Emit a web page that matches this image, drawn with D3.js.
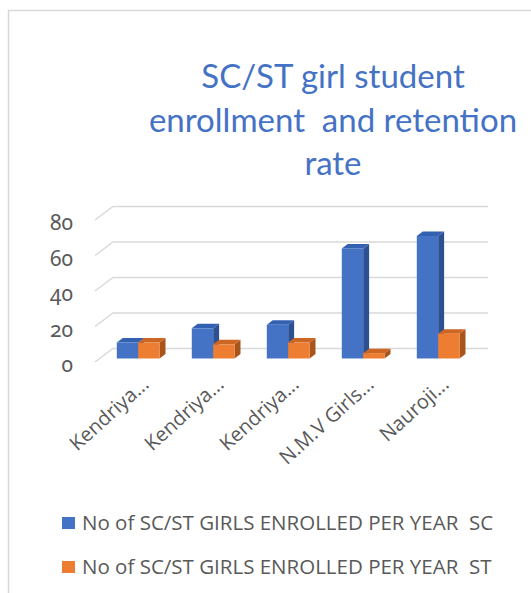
<!DOCTYPE html>
<html>
<head>
<meta charset="utf-8">
<script src="https://cdn.jsdelivr.net/npm/d3@7"></script>
<style>
  html, body { margin: 0; padding: 0; background: #fff; }
  svg { display: block; }
</style>
</head>
<body>
<svg id="chart"></svg>
<script>
const schools = ['Kendriya...', 'Kendriya...', 'Kendriya...', 'N.M.V Girls...', 'Nauroji...'];
const scValues = [9, 17, 19, 62, 69];
const stValues = [9, 8, 9, 3, 14];
const seriesNames = ['No of SC/ST GIRLS ENROLLED PER YEAR  SC', 'No of SC/ST GIRLS ENROLLED PER YEAR  ST'];
const yTicks = [0, 20, 40, 60, 80];
const titleLines = ['SC/ST girl student', 'enrollment  and retention', 'rate'];

const width = 531;
const height = 593;
// oblique depth of the 3d box (front plane -> back wall)
const depth = { dx: 18, dy: 13.5 };
const barDepth = [0.26, 0.59];

const palette = {
  sc: { front: '#4472c4', top: '#3360b0', side: '#2d5093' },
  st: { front: '#ed7d31', top: '#cc6622', side: '#a8541b' }
};

const svg = d3.select('#chart')
  .attr('width', width)
  .attr('height', height);

svg.append('rect')
  .attr('x', 8.5)
  .attr('y', 10.5)
  .attr('width', 700)
  .attr('height', 700)
  .attr('fill', '#fff')
  .attr('stroke', '#d9d9d9')
  .attr('stroke-width', 1.5);

svg.append('text')
  .attr('font-family', 'Lato, sans-serif')
  .attr('font-size', 33)
  .attr('fill', '#4472c4')
  .attr('text-anchor', 'middle')
  .style('white-space', 'pre')
  .selectAll('tspan')
  .data(titleLines)
  .join('tspan')
  .attr('x', 333)
  .attr('y', (d, i) => [88, 132, 175][i])
  .text(d => d);

const x = d3.scaleBand()
  .domain(d3.range(schools.length))
  .range([96, 471])
  .paddingInner(0.43)
  .paddingOuter(0.215);

const xSub = d3.scaleBand()
  .domain(['sc', 'st'])
  .range([0, x.bandwidth()]);

const y = d3.scaleLinear()
  .domain([0, 80])
  .range([362, 220]);

const px = (xv, d) => xv + d * depth.dx;
const py = (yv, d) => yv - d * depth.dy;

// gridlines: side wall diagonal + back wall
const grid = svg.append('g')
  .attr('stroke', '#d9d9d9')
  .attr('stroke-width', 1.5)
  .attr('fill', 'none');

grid.selectAll('path')
  .data(yTicks)
  .join('path')
  .attr('d', v => `M${px(95, 0)},${py(y(v), 0)}L${px(95, 1)},${py(y(v), 1)}H${px(470, 1)}`);

svg.append('g')
  .attr('font-family', '"Noto Sans", sans-serif')
  .attr('font-size', 21)
  .attr('fill', '#595959')
  .attr('text-anchor', 'end')
  .style('font-variant-numeric', 'oldstyle-nums')
  .selectAll('text')
  .data(yTicks)
  .join('text')
  .attr('x', 73)
  .attr('y', v => y(v) + 3)
  .attr('dy', '0.35em')
  .text(v => v);

const bars = [];
schools.forEach((s, i) => {
  bars.push({ i, key: 'sc', value: scValues[i] });
  bars.push({ i, key: 'st', value: stValues[i] });
});

const barG = svg.append('g')
  .selectAll('g')
  .data(bars)
  .join('g');

const [d0, d1] = barDepth;
const x0 = b => x(b.i) + xSub(b.key);
const x1 = b => x0(b) + xSub.bandwidth();

barG.append('path')
  .attr('fill', b => palette[b.key].side)
  .attr('d', b => `M${px(x1(b), d0)},${py(y(0), d0)}L${px(x1(b), d1)},${py(y(0), d1)}L${px(x1(b), d1)},${py(y(b.value), d1)}L${px(x1(b), d0)},${py(y(b.value), d0)}Z`);

barG.append('path')
  .attr('fill', b => palette[b.key].top)
  .attr('d', b => `M${px(x0(b), d0)},${py(y(b.value), d0)}L${px(x0(b), d1)},${py(y(b.value), d1)}L${px(x1(b), d1)},${py(y(b.value), d1)}L${px(x1(b), d0)},${py(y(b.value), d0)}Z`);

barG.append('rect')
  .attr('fill', b => palette[b.key].front)
  .attr('x', b => px(x0(b), d0))
  .attr('y', b => py(y(b.value), d0))
  .attr('width', xSub.bandwidth())
  .attr('height', b => y(0) - y(b.value));

svg.append('g')
  .attr('font-family', '"Open Sans", sans-serif')
  .attr('font-size', 20)
  .attr('fill', '#595959')
  .attr('text-anchor', 'end')
  .selectAll('text')
  .data(schools)
  .join('text')
  .attr('transform', (d, i) => `translate(${px(x(i) + x.bandwidth() / 2, d0) + 12},${386}) rotate(-42)`)
  .text(d => d);

const legend = svg.append('g')
  .attr('font-family', '"Open Sans", sans-serif')
  .attr('font-size', 20.5)
  .attr('fill', '#595959')
  .selectAll('g')
  .data(seriesNames)
  .join('g')
  .attr('transform', (d, i) => `translate(62,${523 + i * 44})`);

legend.append('rect')
  .attr('y', -6)
  .attr('width', 13)
  .attr('height', 12)
  .attr('fill', (d, i) => i === 0 ? palette.sc.front : palette.st.front);

legend.append('text')
  .attr('x', 20)
  .attr('dy', '0.36em')
  .style('white-space', 'pre')
  .text(d => d);
</script>
</body>
</html>
